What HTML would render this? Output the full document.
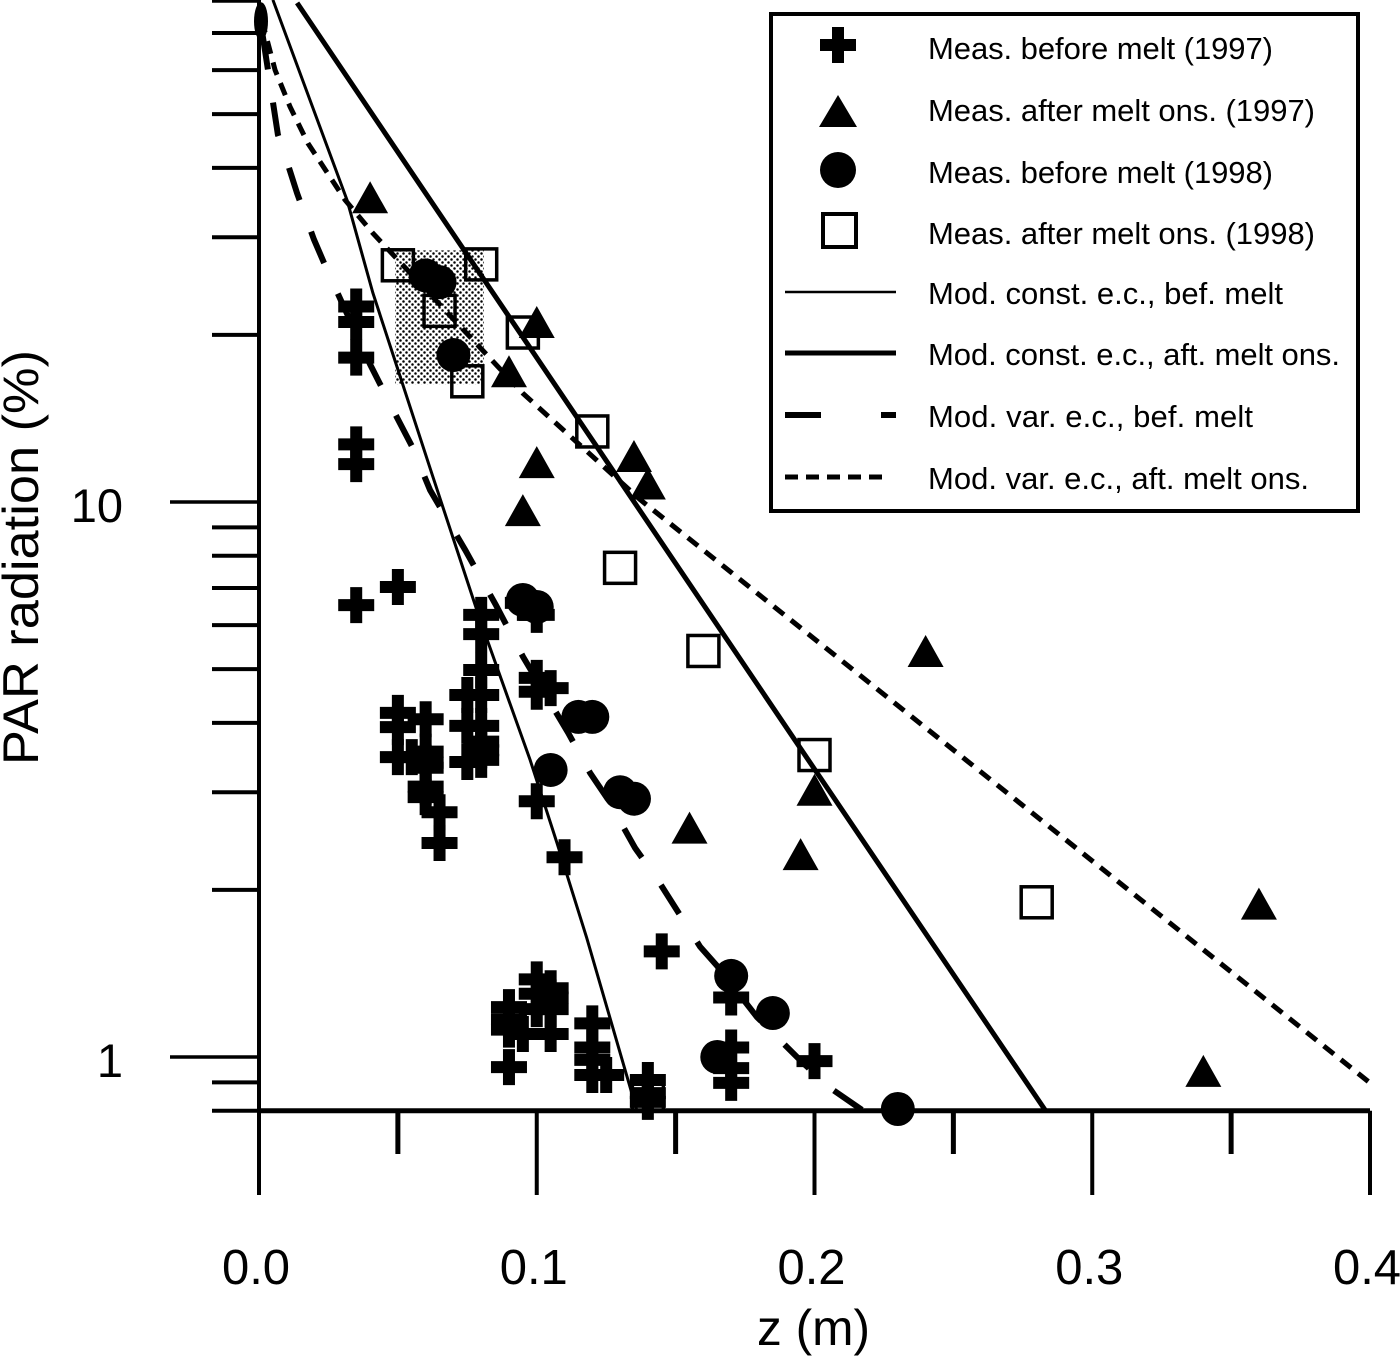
<!DOCTYPE html>
<html lang="en">
<head>
<meta charset="utf-8">
<title>PAR radiation versus depth</title>
<style>
html,body{margin:0;padding:0;background:#fff;}
svg{display:block;font-family:"Liberation Sans",sans-serif;fill:#000;}
</style>
</head>
<body>
<svg id="chart" xmlns="http://www.w3.org/2000/svg" width="1400" height="1356" viewBox="0 0 1400 1356">
<defs>
<pattern id="stipple" width="6" height="6" patternUnits="userSpaceOnUse">
<rect width="6" height="6" fill="#fff"/>
<circle cx="1.5" cy="1.5" r="1.25" fill="#000"/>
<circle cx="4.5" cy="4.5" r="1.25" fill="#000"/>
</pattern>
</defs>
<g id="shade"></g>
<g id="axes"></g>
<g id="lines"></g>
<g id="marks"></g>
<g id="labels"></g>
<text transform="translate(38,765) rotate(-90)" font-size="50" textLength="415" lengthAdjust="spacingAndGlyphs">PAR radiation (%)</text>
<text x="757" y="1345" font-size="50" textLength="113" lengthAdjust="spacingAndGlyphs">z (m)</text>

<g>
<rect x="771" y="14" width="587" height="497" fill="#fff" stroke="#000" stroke-width="4"/>
<g>
<path d="M820 45H856M838 27V63" stroke="#000" stroke-width="12" fill="none"/>
<text x="928" y="59" font-size="31" textLength="345">Meas. before melt (1997)</text>
</g>
<g>
<path d="M838 95L857 127H819Z" fill="#000"/>
<text x="928" y="121" font-size="31" textLength="387">Meas. after melt ons. (1997)</text>
</g>
<g>
<circle cx="838" cy="170" r="18" fill="#000"/>
<text x="928" y="183" font-size="31" textLength="345">Meas. before melt (1998)</text>
</g>
<g>
<rect x="823" y="214" width="33" height="33" fill="none" stroke="#000" stroke-width="4"/>
<text x="928" y="244" font-size="31" textLength="387">Meas. after melt ons. (1998)</text>
</g>
<g>
<line x1="785" x2="896" y1="292" y2="292" stroke="#000" stroke-width="2.5"/>
<text x="928" y="304" font-size="31" textLength="355">Mod. const. e.c., bef. melt</text>
</g>
<g>
<line x1="785" x2="896" y1="353" y2="353" stroke="#000" stroke-width="5"/>
<text x="928" y="365" font-size="31" textLength="412">Mod. const. e.c., aft. melt ons.</text>
</g>
<g>
<line x1="785" x2="896" y1="415" y2="415" stroke="#000" stroke-width="6" stroke-dasharray="36 60 15 0"/>
<text x="928" y="427" font-size="31" textLength="325">Mod. var. e.c., bef. melt</text>
</g>
<g>
<line x1="785" x2="885" y1="477" y2="477" stroke="#000" stroke-width="5" stroke-dasharray="13 8"/>
<text x="928" y="489" font-size="31" textLength="381">Mod. var. e.c., aft. melt ons.</text>
</g>
</g>
</svg>

<script>
// ---- chart data ----
const xTickMajor = [0, 0.1, 0.2, 0.3, 0.4];
const xTickMajorLabels = ['0.0', '0.1', '0.2', '0.3', '0.4'];
const xTickMinor = [0.05, 0.15, 0.25, 0.35];
const yTickMajor = [10, 1];
const yTickMajorLabels = ['10', '1'];
const yTickMinor = [80, 70, 60, 50, 40, 30, 20, 9, 8, 7, 6, 5, 4, 3, 2, 0.9, 0.8];

const shadedZ = [0.049, 0.081];
const shadedPar = [16.3, 28.4];

const before97Z = [0.035,0.035,0.035,0.035,0.035,0.035,0.05,0.08,0.08,0.08,0.075,0.08,0.075,0.08,0.075,0.08,0.08,0.08,0.05,0.05,0.06,0.05,0.055,0.06,0.06,0.06,0.06,0.06,0.065,0.065,0.10,0.10,0.105,0.095,0.10,0.10,0.11,0.145,0.17,0.17,0.17,0.17,0.20,0.09,0.12,0.12,0.12,0.12,0.125,0.14,0.14,0.14,0.10,0.10,0.105,0.105,0.105,0.105,0.09,0.09,0.09,0.095,0.10];
const before97Par = [22.5,21.1,18.2,12.7,11.7,6.52,7.03,6.26,5.78,4.98,4.49,4.49,3.95,3.95,3.40,3.70,3.57,3.43,4.17,3.93,4.06,3.47,3.47,3.55,3.32,3.39,3.07,2.94,2.76,2.43,4.82,4.55,4.62,6.58,6.26,2.89,2.29,1.55,1.28,1.04,0.955,0.898,0.983,0.959,1.15,1.04,0.988,0.928,0.928,0.909,0.861,0.83,1.38,1.30,1.33,1.28,1.22,1.10,1.23,1.17,1.12,1.10,1.22];

const after97Z = [0.04,0.10,0.09,0.10,0.135,0.14,0.095,0.24,0.20,0.155,0.195,0.36,0.34];
const after97Par = [35.4,21.1,17.2,11.8,12.1,10.8,9.67,5.39,3.03,2.59,2.32,1.89,0.944];

const before98Z = [0.06,0.065,0.07,0.095,0.10,0.115,0.12,0.105,0.13,0.135,0.17,0.185,0.165,0.23];
const before98Par = [25.6,24.9,18.4,6.66,6.47,4.10,4.10,3.29,3.00,2.92,1.40,1.20,1.00,0.806];

const after98Z = [0.05,0.08,0.065,0.075,0.095,0.12,0.13,0.16,0.20,0.28,0.14];
const after98Par = [26.7,26.8,22.1,16.5,20.2,13.4,7.61,5.39,3.50,1.90,0.854];

const clippedPointZ = [0];
const clippedPointPar = [73.5];

const constBeforeZ = [0.005,0.0317,0.041,0.0626,0.0796,0.0976,0.1073,0.118,0.136];
const constBeforePar = [80.3,35.0,23.8,11.1,6.13,3.43,2.43,1.64,0.803];

const constAfterZ = [0.0137,0.0828,0.2002,0.283];
const constAfterPar = [79.3,24.4,3.29,0.803];

const varBeforeZ = [0.001,0.005,0.0068,0.0101,0.0137,0.0198,0.0245,0.04,0.0497,0.0551,0.0616,0.0742,0.0853,0.0951,0.1113,0.1192,0.1253,0.1354,0.1437,0.1588,0.1649,0.1793,0.1959,0.2067,0.2171];
const varBeforePar = [70.9,52.6,45.9,41.0,36.0,29.7,26.2,17.7,14.2,12.6,10.5,8.2,6.52,5.26,3.84,3.25,2.93,2.38,2.08,1.58,1.46,1.18,0.975,0.872,0.803];

const varAfterZ = [0.001,0.0058,0.0112,0.0176,0.031,0.041,0.095,0.1109,0.1372,0.40];
const varAfterPar = [73.9,60.0,51.5,44.3,35.0,30.5,15.7,13.3,10.1,0.898];

// ---- axis functions ----
function xScale(z) { return 259 + z * 2777.5; }
function yScale(p) { return 1057 - Math.log10(p) * 555; }

const NS = 'http://www.w3.org/2000/svg';
function make(tag, parentId, attrs) {
  const el = document.createElementNS(NS, tag);
  Object.keys(attrs).forEach(function (k) { el.setAttribute(k, attrs[k]); });
  document.getElementById(parentId).appendChild(el);
  return el;
}

// shaded region
const shadeEl = make('rect', 'shade', {
  x: xScale(shadedZ[0]), y: yScale(shadedPar[1]),
  width: xScale(shadedZ[1]) - xScale(shadedZ[0]),
  height: yScale(shadedPar[0]) - yScale(shadedPar[1]),
  fill: 'url(#stipple)'
});



// axes
const yAxisEl = make('line', 'axes', { x1: xScale(0), x2: xScale(0), y1: 0, y2: 1195, stroke: '#000', 'stroke-width': 4 });


const xAxisEl = make('line', 'axes', { x1: xScale(0), x2: xScale(0.4), y1: yScale(0.8), y2: yScale(0.8), stroke: '#000', 'stroke-width': 5 });



xTickMajor.forEach(function (v, i) {
  const t = make('line', 'axes', { x1: xScale(v), x2: xScale(v), y1: yScale(0.8), y2: 1195, stroke: '#000', 'stroke-width': 4 });
  
  
  const lab = make('text', 'labels', { x: xScale(v) - 3, y: 1284, 'font-size': 49, 'text-anchor': 'middle' });
  lab.textContent = xTickMajorLabels[i];
  
  
});
xTickMinor.forEach(function (v) {
  const t = make('line', 'axes', { x1: xScale(v), x2: xScale(v), y1: yScale(0.8), y2: 1154, stroke: '#000', 'stroke-width': 5 });
  
  
});
yTickMajor.forEach(function (v, i) {
  const t = make('line', 'axes', { x1: 170, x2: xScale(0), y1: yScale(v), y2: yScale(v), stroke: '#000', 'stroke-width': 3.5 });
  
  
  const lab = make('text', 'labels', { x: 123, y: yScale(v) + 20, 'font-size': 47, 'text-anchor': 'end' });
  lab.textContent = yTickMajorLabels[i];
  
  
});
yTickMinor.forEach(function (v) {
  const t = make('line', 'axes', { x1: 212, x2: xScale(0), y1: yScale(v), y2: yScale(v), stroke: '#000', 'stroke-width': 4 });
  
  
});

// model lines
function pathFrom(zs, ps) {
  return zs.map(function (z, i) { return (i ? 'L' : 'M') + xScale(z).toFixed(1) + ' ' + yScale(ps[i]).toFixed(1); }).join('');
}
const constBeforeEl = make('path', 'lines', { d: pathFrom(constBeforeZ, constBeforePar), fill: 'none', stroke: '#000', 'stroke-width': 3 });


const constAfterEl = make('path', 'lines', { d: pathFrom(constAfterZ, constAfterPar), fill: 'none', stroke: '#000', 'stroke-width': 5 });


const varBeforeEl = make('path', 'lines', { d: pathFrom(varBeforeZ, varBeforePar), fill: 'none', stroke: '#000', 'stroke-width': 6, 'stroke-dasharray': '34 33.5', 'stroke-dashoffset': '-6' });


const varAfterEl = make('path', 'lines', { d: pathFrom(varAfterZ, varAfterPar), fill: 'none', stroke: '#000', 'stroke-width': 5, 'stroke-dasharray': '13 9' });



// markers
clippedPointZ.forEach(function (z, i) {
  const m = make('ellipse', 'marks', { cx: xScale(z) + 2, cy: yScale(clippedPointPar[i]), rx: 7, ry: 19, fill: '#000' });
  
  
});
before98Z.forEach(function (z, i) {
  const m = make('circle', 'marks', { cx: xScale(z), cy: yScale(before98Par[i]), r: 17, fill: '#000' });
  
  
});
before97Z.forEach(function (z, i) {
  const x = xScale(z), y = yScale(before97Par[i]);
  const m = make('path', 'marks', { d: 'M' + (x - 18) + ' ' + y + 'H' + (x + 18) + 'M' + x + ' ' + (y - 18) + 'V' + (y + 18), stroke: '#000', 'stroke-width': 12, fill: 'none' });
  
  
});
after97Z.forEach(function (z, i) {
  const x = xScale(z), y = yScale(after97Par[i]);
  const m = make('path', 'marks', { d: 'M' + x + ' ' + (y - 16) + 'L' + (x + 18) + ' ' + (y + 16) + 'H' + (x - 18) + 'Z', fill: '#000' });
  
  
});
after98Z.forEach(function (z, i) {
  const m = make('rect', 'marks', { x: xScale(z) - 15.5, y: yScale(after98Par[i]) - 15.5, width: 31, height: 31, fill: 'none', stroke: '#000', 'stroke-width': 3.5 });
  
  
});
</script>
</body>
</html>
